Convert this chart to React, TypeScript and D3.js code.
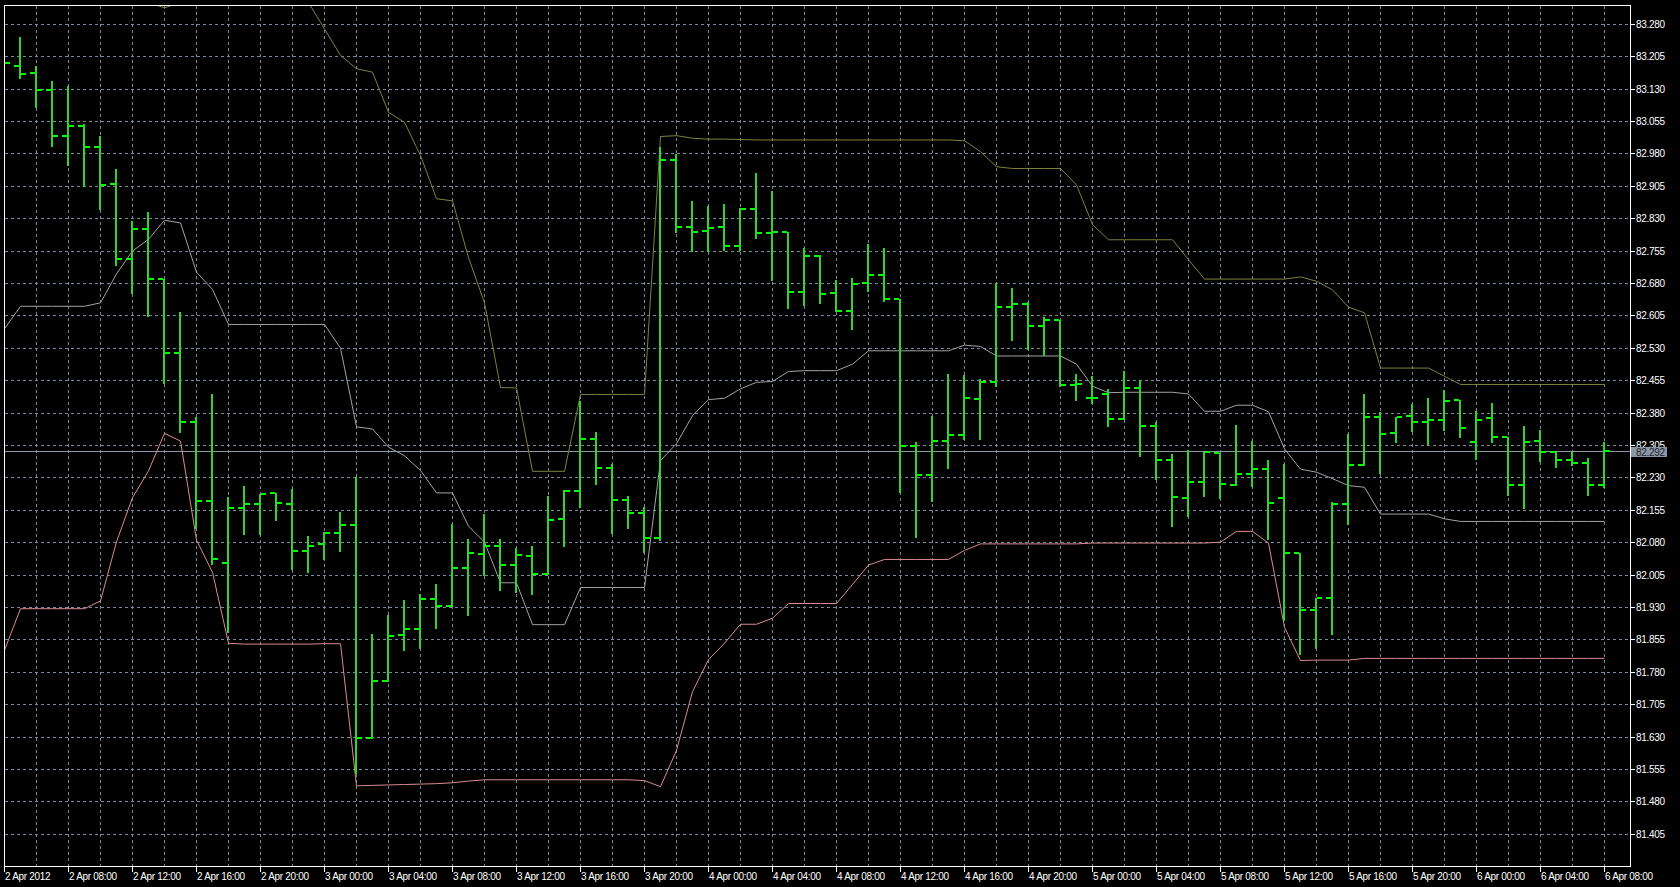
import React from 'react';
import * as d3 from 'd3';

// ---------- data (H1 bars, 2 Apr 2012 04:00 .. 6 Apr 2012 08:00) ----------
const firstBarTime = Date.UTC(2012, 3, 2, 4, 0);
const HOUR = 3600 * 1000;

const opens = [
  83.195, 83.183, 83.167, 83.127, 83.019, 83.043, 82.994, 82.910, 82.736, 82.804,
  82.689, 82.518, 82.359, 82.176, 82.032, 82.160, 82.168, 82.194, 82.169, 82.060,
  82.075, 82.101, 82.120, 81.627, 81.758, 81.865, 81.878, 81.949, 81.932, 82.020,
  82.052, 82.071, 82.028, 82.048, 82.007, 82.133, 82.198, 82.319, 82.251, 82.178,
  82.148, 82.090, 82.965, 82.810, 82.800, 82.810, 82.766, 82.850, 82.796, 82.797,
  82.660, 82.742, 82.656, 82.616, 82.679, 82.699, 82.642, 82.302, 82.236, 82.314,
  82.327, 82.411, 82.450, 82.624, 82.632, 82.580, 82.595, 82.444, 82.413, 82.422,
  82.365, 82.436, 82.349, 82.270, 82.181, 82.220, 82.287, 82.212, 82.237, 82.249,
  82.182, 82.055, 81.922, 81.951, 82.168, 82.258, 82.370, 82.332, 82.372, 82.359,
  82.362, 82.409, 82.312, 82.368, 82.324, 82.212, 82.315, 82.288, 82.270, 82.264,
  82.213,
];
const highs = [
  83.210, 83.249, 83.182, 83.147, 83.136, 83.047, 83.019, 82.943, 82.824, 82.844,
  82.689, 82.613, 82.369, 82.423, 82.185, 82.210, 82.192, 82.194, 82.204, 82.094,
  82.104, 82.149, 82.231, 81.868, 81.911, 81.947, 81.961, 81.984, 82.123, 82.088,
  82.146, 82.088, 82.067, 82.071, 82.187, 82.201, 82.407, 82.334, 82.261, 82.187,
  82.162, 82.994, 82.978, 82.870, 82.857, 82.862, 82.853, 82.934, 82.893, 82.797,
  82.760, 82.745, 82.687, 82.692, 82.769, 82.761, 82.642, 82.311, 82.371, 82.470,
  82.467, 82.458, 82.680, 82.669, 82.635, 82.601, 82.595, 82.470, 82.464, 82.435,
  82.475, 82.455, 82.358, 82.285, 82.293, 82.289, 82.287, 82.351, 82.314, 82.270,
  82.260, 82.055, 81.951, 82.173, 82.330, 82.422, 82.382, 82.370, 82.399, 82.413,
  82.433, 82.409, 82.384, 82.401, 82.324, 82.349, 82.339, 82.288, 82.289, 82.274,
  82.312,
];
const lows = [
  83.170, 83.155, 83.087, 82.996, 82.954, 82.904, 82.851, 82.721, 82.656, 82.604,
  82.449, 82.334, 82.113, 82.029, 81.872, 82.099, 82.099, 82.131, 82.017, 82.011,
  82.042, 82.060, 81.546, 81.627, 81.758, 81.831, 81.834, 81.882, 81.932, 81.912,
  82.005, 81.970, 81.965, 81.959, 82.007, 82.071, 82.162, 82.215, 82.102, 82.112,
  82.056, 82.085, 82.797, 82.754, 82.754, 82.756, 82.756, 82.785, 82.687, 82.621,
  82.630, 82.634, 82.615, 82.574, 82.661, 82.639, 82.196, 82.091, 82.175, 82.252,
  82.319, 82.319, 82.442, 82.547, 82.526, 82.512, 82.442, 82.409, 82.402, 82.348,
  82.365, 82.279, 82.227, 82.118, 82.141, 82.187, 82.182, 82.212, 82.210, 82.088,
  81.899, 81.822, 81.834, 81.868, 82.123, 82.258, 82.240, 82.312, 82.338, 82.308,
  82.339, 82.324, 82.272, 82.312, 82.190, 82.158, 82.268, 82.253, 82.258, 82.190,
  82.208,
];
const closes = [
  83.188, 83.164, 83.127, 83.019, 83.043, 82.994, 82.907, 82.736, 82.804, 82.689,
  82.518, 82.359, 82.176, 82.041, 82.160, 82.168, 82.192, 82.171, 82.060, 82.071,
  82.100, 82.120, 81.627, 81.758, 81.863, 81.878, 81.949, 81.932, 82.020, 82.054,
  82.071, 82.028, 82.050, 82.007, 82.131, 82.199, 82.319, 82.252, 82.178, 82.148,
  82.090, 82.965, 82.809, 82.797, 82.806, 82.766, 82.850, 82.796, 82.797, 82.660,
  82.742, 82.654, 82.616, 82.678, 82.699, 82.642, 82.302, 82.236, 82.314, 82.327,
  82.413, 82.450, 82.624, 82.632, 82.580, 82.595, 82.444, 82.445, 82.413, 82.364,
  82.436, 82.349, 82.270, 82.185, 82.220, 82.289, 82.214, 82.237, 82.249, 82.171,
  82.055, 81.922, 81.951, 82.168, 82.258, 82.370, 82.331, 82.370, 82.359, 82.362,
  82.407, 82.345, 82.362, 82.324, 82.212, 82.312, 82.288, 82.270, 82.264, 82.213,
  82.292,
];

const upperBand = [
  83.360, 83.360, 83.360, 83.360, 83.360, 83.360, 83.360, 83.360, 83.360, 83.330,
  83.318, 83.330, 83.360, 83.360, 83.360, 83.360, 83.360, 83.360, 83.360, 83.330,
  83.269, 83.208, 83.177, 83.169, 83.076, 83.053, 82.976, 82.876, 82.871, 82.740,
  82.635, 82.439, 82.438, 82.245, 82.245, 82.245, 82.423, 82.423, 82.423, 82.423,
  82.423, 83.020, 83.022, 83.016, 83.014, 83.014, 83.013, 83.012, 83.012, 83.012,
  83.012, 83.012, 83.012, 83.012, 83.012, 83.012, 83.012, 83.012, 83.012, 83.012,
  83.010, 82.985, 82.950, 82.946, 82.946, 82.946, 82.946, 82.908, 82.816, 82.781,
  82.781, 82.781, 82.781, 82.781, 82.735, 82.690, 82.690, 82.690, 82.690, 82.690,
  82.690, 82.695, 82.685, 82.665, 82.625, 82.612, 82.484, 82.484, 82.484, 82.484,
  82.465, 82.446, 82.446, 82.446, 82.446, 82.446, 82.446, 82.446, 82.446, 82.446,
  82.446,
];
const middleBand = [
  82.575, 82.627, 82.627, 82.627, 82.627, 82.627, 82.635, 82.702, 82.755, 82.782,
  82.826, 82.820, 82.706, 82.666, 82.585, 82.585, 82.585, 82.585, 82.585, 82.585,
  82.585, 82.530, 82.348, 82.343, 82.301, 82.281, 82.247, 82.195, 82.195, 82.118,
  82.081, 81.987, 81.987, 81.890, 81.890, 81.890, 81.976, 81.976, 81.976, 81.976,
  81.976, 82.270, 82.309, 82.374, 82.411, 82.414, 82.436, 82.451, 82.453, 82.476,
  82.478, 82.478, 82.478, 82.493, 82.524, 82.524, 82.524, 82.524, 82.524, 82.524,
  82.537, 82.534, 82.512, 82.512, 82.512, 82.512, 82.512, 82.493, 82.442, 82.427,
  82.428, 82.428, 82.428, 82.428, 82.424, 82.384, 82.384, 82.398, 82.398, 82.383,
  82.297, 82.250, 82.243, 82.228, 82.212, 82.208, 82.146, 82.146, 82.146, 82.146,
  82.135, 82.129, 82.129, 82.129, 82.129, 82.129, 82.129, 82.129, 82.129, 82.129,
  82.129,
];
const lowerBand = [
  81.831, 81.927, 81.927, 81.927, 81.927, 81.927, 81.945, 82.082, 82.184, 82.246,
  82.333, 82.315, 82.086, 82.011, 81.847, 81.845, 81.845, 81.845, 81.845, 81.845,
  81.846, 81.846, 81.517, 81.518, 81.519, 81.520, 81.521, 81.522, 81.524, 81.528,
  81.531, 81.531, 81.531, 81.531, 81.531, 81.531, 81.531, 81.531, 81.531, 81.531,
  81.529, 81.515, 81.599, 81.735, 81.809, 81.847, 81.891, 81.891, 81.905, 81.939,
  81.939, 81.939, 81.939, 81.983, 82.028, 82.041, 82.041, 82.041, 82.041, 82.041,
  82.062, 82.077, 82.077, 82.077, 82.077, 82.077, 82.077, 82.077, 82.079, 82.079,
  82.079, 82.079, 82.079, 82.079, 82.079, 82.079, 82.081, 82.106, 82.106, 82.079,
  81.884, 81.807, 81.808, 81.808, 81.808, 81.812, 81.812, 81.812, 81.812, 81.812,
  81.812, 81.812, 81.812, 81.812, 81.812, 81.812, 81.812, 81.812, 81.812, 81.812,
  81.812,
];

const priceTicks = [
  81.405, 81.480, 81.555, 81.630, 81.705, 81.780, 81.855, 81.930, 82.005, 82.080,
  82.155, 82.230, 82.305, 82.380, 82.455, 82.530, 82.605, 82.680, 82.755, 82.830,
  82.905, 82.980, 83.055, 83.130, 83.205, 83.280,
];
const timeTickBars = [0, 4, 8, 12, 16, 20, 24, 28, 32, 36, 40, 44, 48, 52, 56, 60, 64, 68, 72, 76, 80, 84, 88, 92, 96, 100];
const timeTickLabels = [
  '2 Apr 2012', '2 Apr 08:00', '2 Apr 12:00', '2 Apr 16:00', '2 Apr 20:00',
  '3 Apr 00:00', '3 Apr 04:00', '3 Apr 08:00', '3 Apr 12:00', '3 Apr 16:00', '3 Apr 20:00',
  '4 Apr 00:00', '4 Apr 04:00', '4 Apr 08:00', '4 Apr 12:00', '4 Apr 16:00', '4 Apr 20:00',
  '5 Apr 00:00', '5 Apr 04:00', '5 Apr 08:00', '5 Apr 12:00', '5 Apr 16:00', '5 Apr 20:00',
  '6 Apr 00:00', '6 Apr 04:00', '6 Apr 08:00',
];
const bidPrice = 82.292;

// ---------- layout ----------
const W = 1680;
const H = 887;
const plotLeft = 4;
const plotTop = 5;
const plotRight = 1630;
const plotBottom = 866;

const GRID = '#778899';
const BAR_V = '#2fd42f';
const BAR_T = '#00ff00';

export default function App() {
  const n = opens.length;
  const times = d3.range(n).map((i) => new Date(firstBarTime + i * HOUR));
  const x = d3.scaleUtc().domain([times[0], times[n - 1]]).range([4, 1604]);
  const y = d3.scaleLinear().domain([81.405, 83.28]).range([833.7, 23.7]);

  const px = (i: number) => Math.round(x(times[i]));
  const py = (v: number) => Math.round(y(v));

  const mkLine = (vals: number[]) =>
    d3
      .line<number>()
      .x((_, i) => px(i) + 0.5)
      .y((v) => y(v) + 0.5)(vals) || '';

  const vGrid: number[] = [];
  for (let gx = plotLeft + 32; gx < plotRight; gx += 32) vGrid.push(gx);

  const font = '"Liberation Sans", Arial, sans-serif';

  return (
    <svg
      width={W}
      height={H}
      style={{ position: 'fixed', left: 0, top: 0, background: '#000', display: 'block' }}
    >
      <rect x={0} y={0} width={W} height={H} fill="#000" />
      <defs>
        <clipPath id="plotClip">
          <rect x={plotLeft + 1} y={plotTop + 1} width={plotRight - plotLeft - 1} height={plotBottom - plotTop - 1} />
        </clipPath>
      </defs>

      {/* grid */}
      <g shapeRendering="crispEdges" stroke={GRID} strokeWidth={1} strokeDasharray="3,3">
        {priceTicks.map((p) => (
          <line key={'h' + p} x1={plotLeft + 1} x2={plotRight} y1={py(p) + 0.5} y2={py(p) + 0.5} />
        ))}
        {vGrid.map((gx) => (
          <line key={'v' + gx} x1={gx + 0.5} x2={gx + 0.5} y1={plotTop + 1} y2={plotBottom} />
        ))}
      </g>

      <g clipPath="url(#plotClip)">
        {/* bid line */}
        <line
          x1={plotLeft}
          x2={plotRight}
          y1={py(bidPrice) + 0.5}
          y2={py(bidPrice) + 0.5}
          stroke="#8a98a6"
          strokeWidth={1}
          shapeRendering="crispEdges"
        />
        {/* bands */}
        <path d={mkLine(upperBand)} fill="none" stroke="#80803e" strokeWidth={1} />
        <path d={mkLine(middleBand)} fill="none" stroke="#a3a3a3" strokeWidth={1} />
        <path d={mkLine(lowerBand)} fill="none" stroke="#dc8a96" strokeWidth={1} />

        {/* OHLC bars */}
        <g shapeRendering="crispEdges">
          {opens.map((o, i) => {
            const cx = px(i);
            const yh = py(highs[i]);
            const yl = py(lows[i]);
            const yo = py(o);
            const yc = py(closes[i]);
            return (
              <g key={'b' + i}>
                <rect x={cx - 1} y={yh} width={2} height={Math.max(2, yl - yh + 1)} fill={BAR_V} />
                <rect x={cx - 6} y={yo - 1} width={5} height={2} fill={BAR_T} />
                <rect x={cx + 1} y={yc - 1} width={5} height={2} fill={BAR_T} />
              </g>
            );
          })}
        </g>
      </g>

      {/* frame */}
      <rect
        x={plotLeft + 0.5}
        y={plotTop + 0.5}
        width={plotRight - plotLeft}
        height={plotBottom - plotTop}
        fill="none"
        stroke="#ffffff"
        strokeWidth={1}
        shapeRendering="crispEdges"
      />

      {/* price axis */}
      <g fontFamily={font} fontSize={10} fill="#ffffff" letterSpacing={-0.3}>
        {priceTicks.map((p) => (
          <g key={'pt' + p}>
            <line x1={plotRight + 1} x2={plotRight + 5} y1={py(p) + 0.5} y2={py(p) + 0.5} stroke="#ffffff" shapeRendering="crispEdges" />
            <text x={plotRight + 6} y={py(p) + 4}>{p.toFixed(3)}</text>
          </g>
        ))}
        <rect x={plotRight + 1} y={py(bidPrice) - 4} width={36} height={10} fill="#8a98a6" />
        <text x={plotRight + 6} y={py(bidPrice) + 4.5} fill="#1e2630">{bidPrice.toFixed(3)}</text>
      </g>

      {/* time axis */}
      <g fontFamily={font} fontSize={10} fill="#ffffff" letterSpacing={-0.3}>
        {timeTickBars.map((b, k) => {
          const tx = px(b);
          return (
            <g key={'tt' + b}>
              <line x1={tx + 0.5} x2={tx + 0.5} y1={plotBottom + 1} y2={plotBottom + 6} stroke="#ffffff" shapeRendering="crispEdges" />
              <text x={tx + 1} y={plotBottom + 14}>{timeTickLabels[k]}</text>
            </g>
          );
        })}
      </g>
    </svg>
  );
}
